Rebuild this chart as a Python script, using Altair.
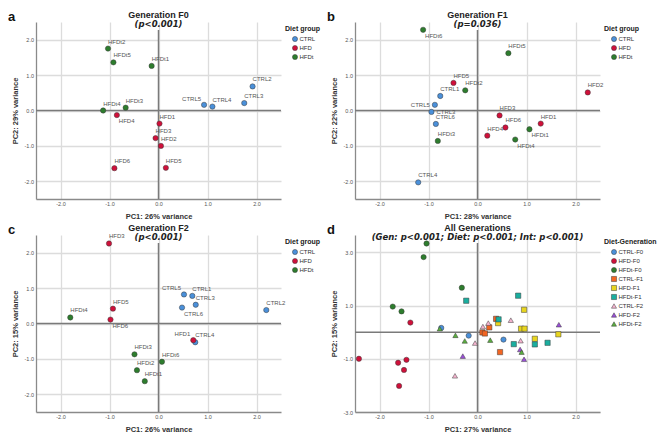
import altair as alt
import pandas as pd

# ---------------- Panel a : Generation F0 ----------------
a_labels = ["CTRL2", "CTRL3", "CTRL4", "CTRL5", "HFD1", "HFD2", "HFD3", "HFD4", "HFD5", "HFD6",
            "HFDt1", "HFDt2", "HFDt3", "HFDt4", "HFDt5"]
a_group = ["CTRL"] * 4 + ["HFD"] * 6 + ["HFDt"] * 5
a_pc1 = [1.92, 1.75, 1.10, 0.93, 0.02, 0.05, -0.06, -0.85, 0.15, -0.90, -0.14, -1.03, -0.67, -1.13, -0.92]
a_pc2 = [0.68, 0.21, 0.11, 0.16, -0.37, -1.00, -0.78, -0.13, -1.62, -1.63, 1.26, 1.75, 0.08, 0.00, 1.36]

# ---------------- Panel b : Generation F1 ----------------
b_labels = ["CTRL1", "CTRL3", "CTRL4", "CTRL5", "CTRL6", "HFD1", "HFD2", "HFD3", "HFD4", "HFD5", "HFD6",
            "HFDt1", "HFDt2", "HFDt3", "HFDt4", "HFDt5", "HFDt6"]
b_group = ["CTRL"] * 5 + ["HFD"] * 6 + ["HFDt"] * 6
b_pc1 = [-0.76, -0.94, -1.21, -0.87, -0.85, 1.29, 2.25, 0.45, 0.20, -0.49, 0.57, 1.06, -0.25, -0.81, 0.77, 0.63, -1.11]
b_pc2 = [0.41, -0.04, -2.03, 0.16, -0.38, -0.37, 0.51, -0.14, -0.71, 0.78, -0.48, -0.53, 0.57, -0.86, -0.82, 1.62, 2.28]

# ---------------- Panel c : Generation F2 ----------------
c_labels = ["CTRL1", "CTRL2", "CTRL3", "CTRL4", "CTRL5", "CTRL6", "HFD1", "HFD3", "HFD5", "HFD6",
            "HFDt1", "HFDt2", "HFDt3", "HFDt4", "HFDt6"]
c_group = ["CTRL"] * 6 + ["HFD"] * 4 + ["HFDt"] * 5
c_pc1 = [0.69, 2.20, 0.76, 0.75, 0.52, 0.48, 0.71, -1.01, -0.93, -0.98, -0.28, -0.44, -0.49, -1.80, 0.07]
c_pc2 = [0.78, 0.38, 0.53, -0.53, 0.82, 0.45, -0.47, 2.26, 0.42, 0.11, -1.63, -1.32, -0.87, 0.17, -1.08]

# ---------------- Panel d : All generations ----------------
d_groups = ["CTRL-F0", "HFD-F0", "HFDt-F0", "CTRL-F1", "HFD-F1", "HFDt-F1", "CTRL-F2", "HFD-F2", "HFDt-F2"]
d_pc1 = {
    "CTRL-F0": [-0.74, -0.18, 0.53],
    "HFD-F0": [-1.37, -2.42, -1.62, -1.45, -1.50, -1.60],
    "HFDt-F0": [-1.04, -1.10, -0.32, -1.73, -1.55],
    "CTRL-F1": [0.38, 0.24, 0.10, 0.15, 0.46],
    "HFD-F1": [0.42, 0.95, 0.89, 0.96, 1.17, 1.65],
    "HFDt-F1": [-0.23, 0.83, 0.43, 0.74, 1.17, 1.43],
    "CTRL-F2": [0.11, 0.22, -0.05, 0.68, 0.88, -0.46],
    "HFD-F2": [1.66, 0.87, 0.95, -0.30],
    "HFDt-F2": [-0.77, -0.45, -0.26, 0.26, 0.90],
}
d_pc2 = {
    "CTRL-F0": [0.16, -0.13, -0.28],
    "HFD-F0": [0.36, -1.00, -1.15, -1.04, -1.42, -2.02],
    "HFDt-F0": [3.33, 2.82, 1.67, 0.96, 0.78],
    "CTRL-F1": [0.50, 0.18, -0.01, -0.05, -0.75],
    "HFD-F1": [0.34, 0.84, 0.13, 0.13, -0.25, -0.08],
    "HFDt-F1": [1.18, 1.37, 0.48, -0.45, -0.46, -0.40],
    "CTRL-F2": [0.21, 0.34, -0.41, 0.45, -0.32, -1.64],
    "HFD-F2": [0.28, -0.65, -1.02, -0.90],
    "HFDt-F2": [0.13, -0.12, -0.33, -0.30, -0.75],
}

# ---------------- styling ----------------
diet_groups = ["CTRL", "HFD", "HFDt"]
diet_colors = ["#4A90DA", "#D0103A", "#2D7D2D"]
d_colors = ["#4A90DA", "#D0103A", "#2D7D2D", "#F26522", "#E8D51E", "#1AAE9F", "#F5B5CF", "#9A4FD8", "#5AAE3F"]
d_shapes = ["circle"] * 3 + ["square"] * 3 + ["triangle-up"] * 3

# label placement (default: above right)
a_place = {"CTRL5": "ul", "HFD4": "br"}
b_place = {"HFDt6": "br", "CTRL5": "l", "CTRL3": "r", "HFDt1": "br", "HFDt4": "br"}
c_place = {"CTRL5": "ul", "CTRL6": "br", "HFD6": "br", "HFD1": "ul"}
PLACE = {
    "ur": dict(align="left", dx=0, dy=-7),
    "br": dict(align="left", dx=2, dy=6),
    "ul": dict(align="right", dx=-3, dy=-6),
    "l": dict(align="right", dx=-5, dy=0),
    "r": dict(align="left", dx=5, dy=0),
}

W, H = 245, 177
FONT = "Liberation Sans"
LBL = "replace(format(datum.value, '.1f'), '\u2212', '-')"


def make_df(labels, groups, xs, ys, place):
    return pd.DataFrame({
        "lab": labels, "grp": groups, "pc1": xs, "pc2": ys,
        "pos": [place.get(l, "ur") for l in labels],
    })


def panel(df, letter, title, subtitle, xt, yt, ydom, yvals, cdom, crng, srng, ltitle, with_labels):
    X = alt.X("pc1:Q", title=xt,
              scale=alt.Scale(domain=[-2.5, 2.5], nice=False, zero=False),
              axis=alt.Axis(values=[-2, -1, 0, 1, 2], labelExpr=LBL))
    Y = alt.Y("pc2:Q", title=yt,
              scale=alt.Scale(domain=ydom, nice=False, zero=False),
              axis=alt.Axis(values=yvals, labelExpr=LBL))
    base = alt.Chart(df).encode(x=X, y=Y)
    one = pd.DataFrame({"z": [0]})
    # zero reference lines (the vertical one starts just below the subtitle, as in the original)
    vrule = alt.Chart(one).mark_rule(color="#7a7a7a", strokeWidth=1.5).encode(
        x=alt.datum(0), y=alt.value(8), y2=alt.value(H))
    hrule = alt.Chart(one).mark_rule(color="#7a7a7a", strokeWidth=1.5).encode(y=alt.datum(0))
    pts = base.mark_point(filled=True, size=28, opacity=1, stroke="#3a3a3a", strokeWidth=0.5).encode(
        color=alt.Color("grp:N", scale=alt.Scale(domain=cdom, range=crng), legend=alt.Legend(title=ltitle)),
        shape=alt.Shape("grp:N", scale=alt.Scale(domain=cdom, range=srng), legend=alt.Legend(title=ltitle)),
    )
    layers = [vrule, hrule, pts]
    if with_labels:
        for code, p in PLACE.items():
            layers.append(
                base.transform_filter(alt.datum.pos == code)
                .mark_text(font=FONT, fontSize=6, color="#555555", baseline="middle", **p)
                .encode(text="lab:N")
            )
    # panel letter, title and subtitle (overlapping the top of the plot as in the original)
    layers.append(
        alt.Chart(one).mark_text(text=letter, font=FONT, fontSize=13, fontWeight="bold", color="#111111",
                                 align="left", baseline="alphabetic")
        .encode(x=alt.value(-28), y=alt.value(-1))
    )
    layers.append(
        alt.Chart(one).mark_text(text=title, font=FONT, fontSize=9, fontWeight="bold", color="#222222",
                                 align="center", baseline="alphabetic")
        .encode(x=alt.value(W / 2), y=alt.value(-4))
    )
    layers.append(
        alt.Chart(one).mark_text(text=subtitle, font="DejaVu Sans", fontSize=8.5, fontWeight="bold",
                                 fontStyle="italic", color="#222222", align="center", baseline="alphabetic")
        .encode(x=alt.value(W / 2), y=alt.value(5))
    )
    return alt.layer(*layers).properties(width=W, height=H)


dfa = make_df(a_labels, a_group, a_pc1, a_pc2, a_place)
dfb = make_df(b_labels, b_group, b_pc1, b_pc2, b_place)
dfc = make_df(c_labels, c_group, c_pc1, c_pc2, c_place)
d_rows = []
for g in d_groups:
    for x, y in zip(d_pc1[g], d_pc2[g]):
        d_rows.append({"lab": "", "grp": g, "pc1": x, "pc2": y, "pos": "ur"})
dfd = pd.DataFrame(d_rows)

yv5 = [-2, -1, 0, 1, 2]
circ = ["circle"] * 3
pa = panel(dfa, "a", "Generation F0", "(p<0.001)", "PC1: 26% variance", "PC2: 29% variance",
           [-2.5, 2.5], yv5, diet_groups, diet_colors, circ, "Diet group", True)
pb = panel(dfb, "b", "Generation F1", "(p=0.036)", "PC1: 28% variance", "PC2: 22% variance",
           [-2.5, 2.5], yv5, diet_groups, diet_colors, circ, "Diet group", True)
pc = panel(dfc, "c", "Generation F2", "(p<0.001)", "PC1: 26% variance", "PC2: 15% variance",
           [-2.5, 2.5], yv5, diet_groups, diet_colors, circ, "Diet group", True)
pd_ = panel(dfd, "d", "All Generations", "(Gen: p<0.001; Diet: p<0.001; Int: p<0.001)",
            "PC1: 27% variance", "PC2: 15% variance",
            [-3.0, 3.65], [-3, -2, -1, 0, 1, 2, 3], d_groups, d_colors, d_shapes, "Diet-Generation", False)

chart = (
    alt.concat(pa, pb, pc, pd_, columns=2, spacing=4)
    .resolve_scale(color="independent", shape="independent")
    .properties(padding={"left": 0, "top": 3, "right": 0, "bottom": 0}, background="white")
    .configure_view(strokeWidth=0)
    .configure_axis(grid=True, gridColor="#dcdcdc", gridWidth=1.3,
                    domainColor="#8a8a8a", domainWidth=1.3, ticks=False,
                    labelFont=FONT, labelFontSize=5.5, labelColor="#555555", labelPadding=2.5,
                    titleFont=FONT, titleFontSize=7.5, titleFontWeight="bold", titleColor="#333333",
                    titlePadding=5)
    .configure_legend(orient="right", offset=1, padding=3,
                      titleFont=FONT, titleFontSize=7, titleFontWeight="bold", titleColor="#222222",
                      titlePadding=4, labelFont=FONT, labelFontSize=6, labelColor="#333333",
                      symbolSize=26, symbolStrokeColor="#3a3a3a", symbolStrokeWidth=0.5,
                      rowPadding=1, symbolOffset=7, labelOffset=1.5)
)

chart.save("out.html", embed_options={"renderer": "svg", "actions": False})
